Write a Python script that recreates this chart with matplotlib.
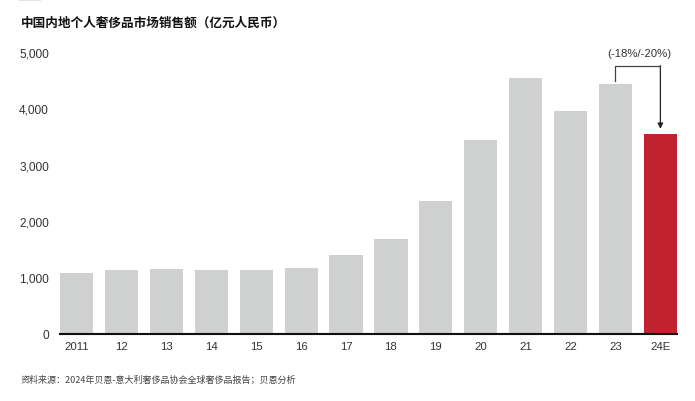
import matplotlib
matplotlib.use('Agg')
import matplotlib.pyplot as plt
import matplotlib.ticker as mtick

plt.rcParams['font.family'] = ['Liberation Sans', 'Noto Sans CJK SC', 'DejaVu Sans']

years = ['2011', '12', '13', '14', '15', '16', '17', '18', '19', '20', '21', '22', '23', '24E']
sales = [1070, 1130, 1145, 1130, 1120, 1170, 1400, 1685, 2355, 3440, 4540, 3950, 4425, 3540]
bar_colors = ['#cfd0d0'] * 13 + ['#c1222f']
yticks = [0, 1000, 2000, 3000, 4000, 5000]
title = '中国内地个人奢侈品市场销售额（亿元人民币）'
change_label = '(-18%/-20%)'
source = '资料来源：2024年贝恩-意大利奢侈品协会全球奢侈品报告；贝恩分析'

fig = plt.figure(figsize=(6.95, 4.02), dpi=100)
ax = fig.add_axes([60 / 695, (402 - 334.5) / 402, (677 - 60) / 695, (334.5 - 53) / 402])

x = list(range(len(years)))
ax.bar(x, sales, width=0.74, color=bar_colors, zorder=2)
ax.set_xlim(-0.37, len(years) - 1 + 0.37)
ax.set_ylim(0, 5000)
ax.set_yticks(yticks)
ax.yaxis.set_major_formatter(mtick.StrMethodFormatter('{x:,.0f}'))
ax.set_xticks(x)
ax.set_xticklabels(years)

for s in ['top', 'right', 'left']:
    ax.spines[s].set_visible(False)
ax.spines['bottom'].set_color('#111111')
ax.spines['bottom'].set_linewidth(1.5)
ax.spines['bottom'].set_zorder(3)
ax.tick_params(axis='y', length=0, pad=8, labelsize=8.6, labelcolor='#333333')
ax.tick_params(axis='x', length=0, pad=5.5, labelsize=8.2, labelcolor='#333333')

# bracket arrow from 23 to 24E
i0, i1 = len(years) - 2, len(years) - 1
top_y = 4757
ax.plot([i0, i0, i1], [sales[i0] + 60, top_y, top_y], color='#444444', lw=0.9,
        clip_on=False, zorder=4)
ax.annotate('', xy=(i1, sales[i1] + 95), xytext=(i1, top_y),
            arrowprops=dict(arrowstyle='-|>', color='#222222', lw=0.9,
                            mutation_scale=8, shrinkA=0, shrinkB=0),
            annotation_clip=False)
ax.text((i0 + i1) / 2 + 0.02, 4975, change_label, ha='center', va='center',
        fontsize=8.2, color='#333333')

fig.text(21 / 695, 1 - 23.5 / 402, title, fontsize=9.1, fontweight='bold',
         color='#111111', va='center', ha='left',
         family=['Noto Sans CJK SC', 'DejaVu Sans'])
fig.text(21 / 695, 1 - 380 / 402, source, fontsize=6.5, color='#444444',
         va='center', ha='left', family=['Noto Sans CJK SC', 'DejaVu Sans'])

# faint mark at the very top
fig.add_artist(plt.Line2D([20 / 695, 40 / 695], [1 - 0.8 / 402, 1 - 0.8 / 402],
                          color='#e6e6e6', lw=1.5))

plt.savefig('out.png', dpi=100)
